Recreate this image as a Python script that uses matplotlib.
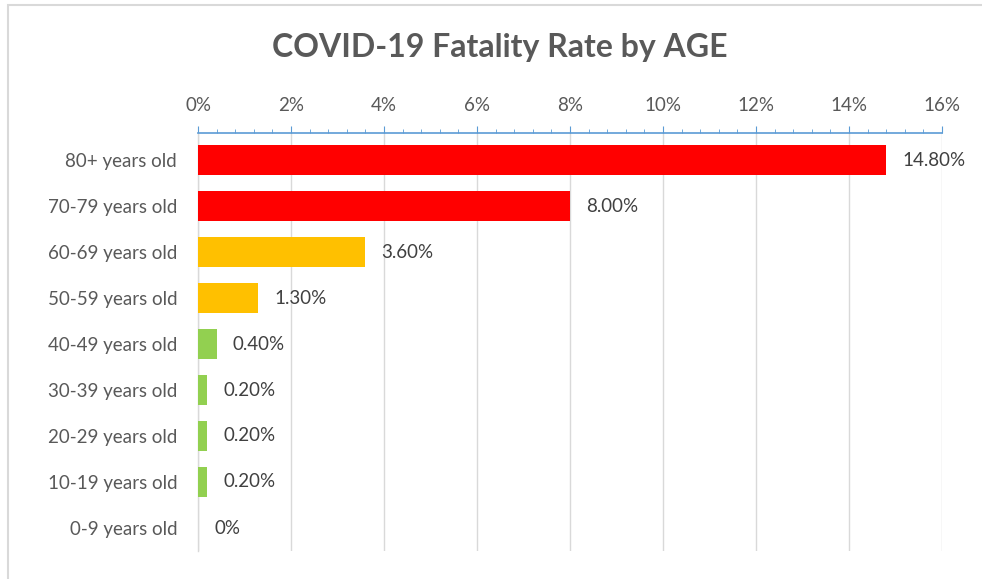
import matplotlib
matplotlib.use("Agg")
import matplotlib.pyplot as plt
from matplotlib.ticker import MultipleLocator, FuncFormatter
from matplotlib.patches import Rectangle

categories = ["80+ years old", "70-79 years old", "60-69 years old", "50-59 years old",
              "40-49 years old", "30-39 years old", "20-29 years old", "10-19 years old",
              "0-9 years old"]
values = [14.8, 8.0, 3.6, 1.3, 0.4, 0.2, 0.2, 0.2, 0.0]
value_labels = ["14.80%", "8.00%", "3.60%", "1.30%", "0.40%", "0.20%", "0.20%", "0.20%", "0%"]
colors = ["#FF0000", "#FF0000", "#FFC000", "#FFC000", "#92D050", "#92D050", "#92D050",
          "#92D050", "#92D050"]
title = "COVID-19 Fatality Rate by AGE"

plt.rcParams['font.family'] = ['Lato', 'DejaVu Sans']
txt = "#595959"

fig = plt.figure(figsize=(9.82, 5.79), dpi=100)
fig.patches.append(Rectangle((8/982, -0.05), 1.1, 1.05 - 5/579, transform=fig.transFigure,
                             fill=False, edgecolor="#D9D9D9", linewidth=1.5))
ax = fig.add_axes([198/982, 1 - 551/579, (942-198)/982, (551-133)/579])

y = list(range(len(categories)))
ax.barh(y, values, height=0.65, color=colors, zorder=3)
ax.set_ylim(len(categories) - 0.5, -0.5 - 4/46)
ax.set_xlim(0, 16)
ax.set_yticks(y)
ax.set_yticklabels(categories, fontsize=13.5, color=txt)
ax.xaxis.set_major_locator(MultipleLocator(2))
ax.xaxis.set_minor_locator(MultipleLocator(0.4))
ax.xaxis.set_major_formatter(FuncFormatter(lambda v, p: f"{v:.0f}%"))
ax.xaxis.tick_top()
ax.tick_params(axis='x', which='major', direction='out', length=5, color="#5B9BD5",
               labelsize=13.5, labelcolor=txt, pad=9)
ax.tick_params(axis='x', which='minor', direction='out', length=3, color="#5B9BD5")
ax.tick_params(axis='y', length=0, pad=15)
ax.grid(axis='x', which='major', color="#D9D9D9", linewidth=1, zorder=0)
for s in ['right', 'bottom']:
    ax.spines[s].set_visible(False)
ax.spines['top'].set_color("#5B9BD5")
ax.spines['top'].set_linewidth(1.2)
ax.spines['left'].set_color("#D9D9D9")
ax.spines['left'].set_linewidth(1)

for yi, v, lab in zip(y, values, value_labels):
    ax.text(v + 0.35, yi, lab, va='center', ha='left', fontsize=13.5, color="#404040")

fig.text(500/982, 1 - 48/579, title, ha='center', va='center', fontsize=23,
         fontweight='bold', color=txt)

fig.savefig("out.png", dpi=100, facecolor="white")
